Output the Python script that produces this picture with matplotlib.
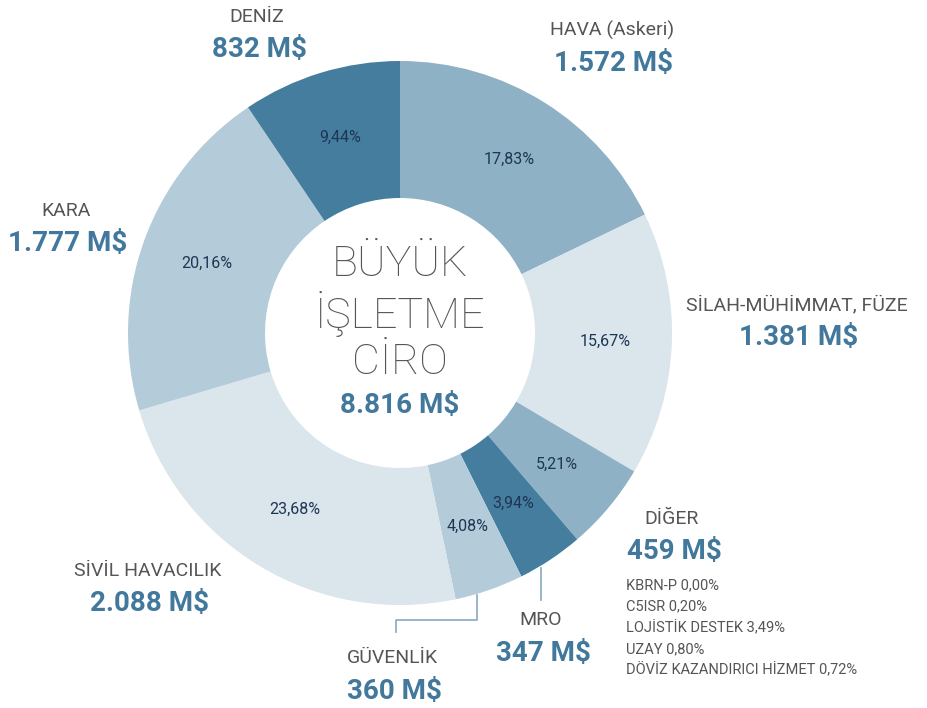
import matplotlib
matplotlib.use("Agg")
import matplotlib.pyplot as plt
import numpy as np

# segments, clockwise from 12 o'clock
names = ['HAVA (Askeri)', 'SİLAH-MÜHİMMAT, FÜZE', 'DİĞER', 'MRO', 'GÜVENLİK',
         'SİVİL HAVACILIK', 'KARA', 'DENİZ']
ciro = [1572, 1381, 459, 347, 360, 2088, 1777, 832]          # M$
ciro_txt = ['1.572 M$', '1.381 M$', '459 M$', '347 M$', '360 M$',
            '2.088 M$', '1.777 M$', '832 M$']
pct_txt = ['17,83%', '15,67%', '5,21%', '3,94%', '4,08%', '23,68%', '20,16%', '9,44%']
colors = ['#8fb1c6', '#dae5ec', '#8fb1c6', '#457d9f', '#b4ccd9',
          '#dae5ec', '#b4ccd9', '#457d9f']

diger_detail = ['KBRN-P 0,00%', 'C5ISR 0,20%', 'LOJİSTİK DESTEK 3,49%',
                'UZAY 0,80%', 'DÖVİZ KAZANDIRICI HİZMET 0,72%']
total_txt = '8.816 M$'

W, H = 927, 708
GREY = '#555555'
BLUE = '#41789c'
NAVY = '#1e3553'
plt.rcParams['font.family'] = ['Roboto', 'DejaVu Sans']

fig = plt.figure(figsize=(W / 100, H / 100), dpi=100)
ax = fig.add_axes([0, 0, 1, 1])


def Y(y):
    return H - y


cx, cy, R, r_in = 400, Y(333), 272, 135
wedges, _ = ax.pie(ciro, colors=colors, startangle=90, counterclock=False,
                   center=(cx, cy), radius=R,
                   wedgeprops=dict(width=R - r_in, linewidth=0))

for w, t in zip(wedges, pct_txt):
    a = np.deg2rad((w.theta1 + w.theta2) / 2)
    ax.text(cx + 205 * np.cos(a), cy + 205 * np.sin(a), t, ha='center', va='center',
            fontsize=11.5, color=NAVY)

# outer labels: (x, y of name) in pixels
label_pos = {
    'HAVA (Askeri)': (612, 30),
    'SİLAH-MÜHİMMAT, FÜZE': (797, 305),
    'DİĞER': (672, 519),
    'MRO': (541, 620),
    'GÜVENLİK': (392, 658),
    'SİVİL HAVACILIK': (148, 571),
    'KARA': (66, 211),
    'DENİZ': (257, 17),
}
for n, v in zip(names, ciro_txt):
    x, y = label_pos[n]
    ax.text(x, Y(y), n, ha='center', va='center', fontsize=14, color=GREY)
    ax.text(x + 2, Y(y + 33), v, ha='center', va='center', fontsize=20,
            fontweight='bold', color=BLUE)

for i, t in enumerate(diger_detail):
    ax.text(626, Y(585 + i * 21.3), t, ha='left', va='center', fontsize=10.5, color=GREY)

# leader lines
ax.plot([477, 477, 396, 396], [Y(595), Y(620), Y(620), Y(632)], color='#8fb1c6', lw=1.3)
ax.plot([541, 541], [Y(568), Y(600)], color='#8fb1c6', lw=1.3)

# centre text
for t, y in zip(['BÜYÜK', 'İŞLETME', 'CİRO'], [265, 314, 362]):
    ax.text(cx, Y(y), t, ha='center', va='center', fontsize=31, fontweight='light',
            color=GREY)
ax.text(cx, Y(405), total_txt, ha='center', va='center', fontsize=20,
        fontweight='bold', color=BLUE)

ax.set_xlim(0, W)
ax.set_ylim(0, H)
ax.set_aspect('equal')
ax.axis('off')
fig.savefig('out.png', dpi=100)
